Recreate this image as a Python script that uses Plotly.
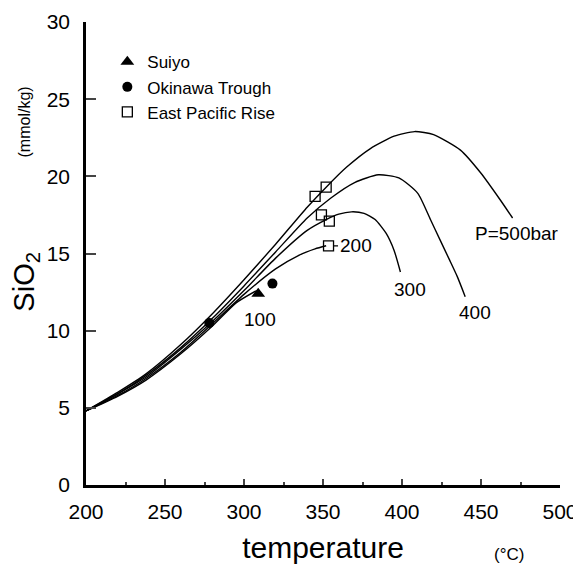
import plotly.graph_objects as go

# ---- data ----
p500_t = [200, 220, 238, 260, 280, 300, 320, 340, 352, 365, 380, 395, 408, 420, 437, 450, 462, 470]
p500_s = [4.8, 6.0, 7.2, 9.1, 11.1, 13.3, 15.6, 18.0, 19.3, 20.6, 21.8, 22.6, 22.9, 22.7, 21.7, 20.2, 18.5, 17.3]

p400_t = [200, 220, 238, 260, 280, 300, 320, 340, 355, 370, 385, 398, 410, 418, 424, 430, 435, 440]
p400_s = [4.8, 5.9, 7.1, 8.9, 10.8, 12.9, 15.1, 17.3, 18.6, 19.6, 20.1, 19.9, 18.9, 17.2, 15.9, 14.6, 13.5, 12.2]

p300_t = [200, 220, 238, 260, 280, 300, 320, 340, 352, 360, 368, 376, 383, 390, 395, 399]
p300_s = [4.8, 5.9, 7.0, 8.8, 10.6, 12.6, 14.7, 16.5, 17.2, 17.55, 17.7, 17.6, 17.2, 16.3, 15.2, 13.8]

p200_t = [200, 220, 238, 260, 280, 300, 320, 335, 345, 352]
p200_s = [4.8, 5.8, 6.9, 8.6, 10.45, 12.35, 14.0, 14.9, 15.3, 15.5]

p100_t = [200, 220, 238, 260, 280, 295, 308]
p100_s = [4.8, 5.75, 6.8, 8.5, 10.3, 11.8, 12.6]

suiyo_t = [309]
suiyo_s = [12.4]

okinawa_t = [278, 318]
okinawa_s = [10.5, 13.05]

epr_t = [345, 352, 349, 354, 353.5]
epr_s = [18.7, 19.3, 17.5, 17.1, 15.5]

curve_labels = ["100", "200", "300", "400", "P=500bar"]
curve_label_t = [310, None, 405, 446, 473]
curve_label_s = [10.7, None, 12.7, 11.2, 16.3]

x_ticks = [200, 250, 300, 350, 400, 450, 500]
y_ticks = [0, 5, 10, 15, 20, 25, 30]

FONT = "Liberation Sans, Arial, sans-serif"

fig = go.Figure()

curves = [(p100_t, p100_s), (p200_t, p200_s), (p300_t, p300_s),
          (p400_t, p400_s), (p500_t, p500_s)]
for (t, s), name in zip(curves, curve_labels):
    fig.add_trace(go.Scatter(x=t, y=s, mode="lines",
                             line=dict(color="black", width=1.4, shape="spline", smoothing=0.6),
                             showlegend=False, hoverinfo="skip", name=name))

fig.add_trace(go.Scatter(x=suiyo_t, y=suiyo_s, mode="markers", name="Suiyo",
                         marker=dict(symbol="triangle-up", size=12, color="black")))
fig.add_trace(go.Scatter(x=okinawa_t, y=okinawa_s, mode="markers", name="Okinawa Trough",
                         marker=dict(symbol="circle", size=10, color="black")))
fig.add_trace(go.Scatter(x=epr_t, y=epr_s, mode="markers", name="East Pacific Rise",
                         marker=dict(symbol="square-open", size=10, color="black", line=dict(width=1.3))))

# curve labels
for lab, t, s in zip(curve_labels, curve_label_t, curve_label_s):
    if t is None:
        continue
    fig.add_annotation(x=t, y=s, text=lab, showarrow=False,
                       font=dict(family=FONT, size=19, color="black"))
# 200 label with a short leader to the square
fig.add_annotation(x=epr_t[4], y=epr_s[4], text=curve_labels[1], showarrow=True,
                   ax=27, ay=0, arrowhead=0, arrowwidth=1.3, arrowcolor="black", standoff=5,
                   font=dict(family=FONT, size=19, color="black"))

fig.add_annotation(xref="paper", yref="paper", x=-0.168, y=0.44, text="SiO<sub>2</sub>",
                   textangle=-90, showarrow=False, font=dict(family=FONT, size=29, color="black"))
fig.add_annotation(xref="paper", yref="paper", x=-0.152, y=0.865, text="(mmol/kg)",
                   textangle=-90, showarrow=False, font=dict(family=FONT, size=16, color="black"))
fig.add_annotation(xref="paper", yref="paper", x=0.928, y=-0.174, text="(°C)",
                   showarrow=False, font=dict(family=FONT, size=17, color="black"))

# page body has an 8px margin, so the figure is 8px smaller than the window
fig.update_layout(
    width=573, height=560,
    margin=dict(l=78, r=21, t=14, b=83),
    paper_bgcolor="white", plot_bgcolor="white",
    font=dict(family=FONT, color="black"),
    legend=dict(x=0.045, y=0.952, xanchor="left", yanchor="top",
                font=dict(family=FONT, size=17, color="black"),
                bgcolor="rgba(0,0,0,0)", itemwidth=30, tracegroupgap=0),
    xaxis=dict(range=[200, 500], tickvals=x_ticks, ticks="inside", ticklen=6, tickwidth=2,
               showline=True, linewidth=2.5, linecolor="black", showgrid=False, zeroline=False,
               automargin=False, ticklabelstandoff=6,
               tickfont=dict(family=FONT, size=21, color="black"),
               minor=dict(ticks="inside", ticklen=3, tickwidth=1.5, dtick=25, tick0=200, showgrid=False),
               title=dict(text="temperature", font=dict(family=FONT, size=30, color="black"), standoff=16)),
    yaxis=dict(range=[0, 30], tickvals=y_ticks, ticks="inside", ticklen=10, tickwidth=2,
               showline=True, linewidth=2.5, linecolor="black", showgrid=False, zeroline=False,
               automargin=False, ticklabelstandoff=9,
               tickfont=dict(family=FONT, size=21, color="black")),
)

fig.write_html("out.html")
